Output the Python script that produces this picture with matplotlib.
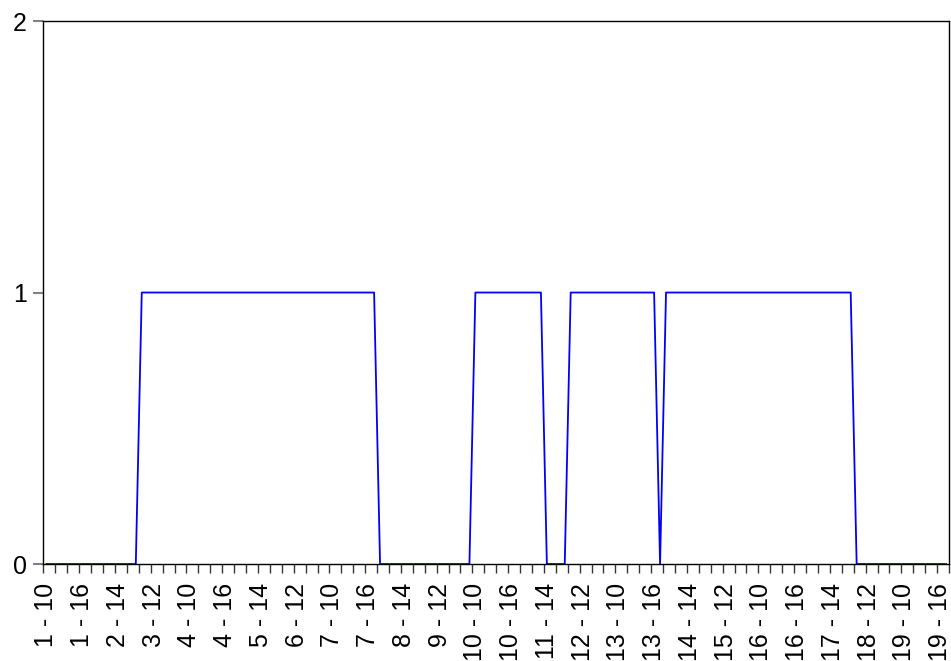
import numpy as np
import matplotlib
matplotlib.use('Agg')
import matplotlib.pyplot as plt
from matplotlib.ticker import FixedLocator

plt.rcParams['font.family'] = ['Liberation Sans', 'DejaVu Sans']

# observations: days 1..19, hours 10..17 (8 per day)
days = list(range(1, 20))
hours = list(range(10, 18))

# series values, one row per day
values = [
    0, 0, 0, 0, 0, 0, 0, 0,   # 1
    0, 0, 0, 0, 0, 0, 0, 0,   # 2
    1, 1, 1, 1, 1, 1, 1, 1,   # 3
    1, 1, 1, 1, 1, 1, 1, 1,   # 4
    1, 1, 1, 1, 1, 1, 1, 1,   # 5
    1, 1, 1, 1, 1, 1, 1, 1,   # 6
    1, 1, 1, 1, 1, 1, 1, 1,   # 7
    0, 0, 0, 0, 0, 0, 0, 0,   # 8
    0, 0, 0, 0, 0, 0, 0, 0,   # 9
    1, 1, 1, 1, 1, 1, 1, 1,   # 10
    1, 1, 1, 1, 0, 0, 0, 0,   # 11
    1, 1, 1, 1, 1, 1, 1, 1,   # 12
    1, 1, 1, 1, 1, 1, 1, 0,   # 13
    1, 1, 1, 1, 1, 1, 1, 1,   # 14
    1, 1, 1, 1, 1, 1, 1, 1,   # 15
    1, 1, 1, 1, 1, 1, 1, 1,   # 16
    1, 1, 1, 1, 1, 1, 1, 1,   # 17
    0, 0, 0, 0, 0, 0, 0, 0,   # 18
    0, 0, 0, 0, 0, 0, 0, 0,   # 19
]

obs_labels = [f"{d} - {h}" for d in days for h in hours]
y_ticks = [0, 1, 2]

x = np.arange(len(values))

fig = plt.figure(figsize=(9.51, 6.61), dpi=100)
ax = fig.add_axes([0.0457, 0.1467, 0.9522, 0.8215])

ax.plot(x, values, color='#0000ff', lw=1.3)

ax.set_xlim(-0.5, len(values) - 0.5)
ax.set_ylim(0, 2)

# labels every 6 observations, small ticks every 2 (between observations)
ax.set_xticks(x[::6])
ax.set_xticklabels(obs_labels[::6], rotation=90, fontsize=18)
ax.xaxis.set_minor_locator(FixedLocator(np.arange(-0.5, len(values), 2)))
ax.tick_params(axis='x', which='major', length=0, pad=13.5)
ax.tick_params(axis='x', which='minor', length=6.5, width=1.0, color='#333333', direction='out')

ax.set_yticks(y_ticks)
ax.set_yticklabels([str(v) for v in y_ticks], fontsize=18)
ax.tick_params(axis='y', which='major', length=7, width=1.5, color='#808080', pad=5)

for s in ax.spines.values():
    s.set_linewidth(1.0)
    s.set_color('black')

fig.savefig('out.png', dpi=100)
